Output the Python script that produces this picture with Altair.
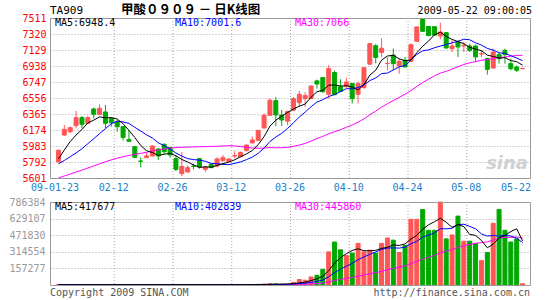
import altair as alt
import pandas as pd

# ---------------- data ----------------
opens = [5795, 6114, 6154, 6226, 6321, 6254, 6425, 6361, 6389, 6313,
         6270, 6214, 6059, 5975, 5804, 5844, 5864, 5947, 6003, 5963,
         5832, 5653, 5673, 5744, 5832, 5704, 5764, 5744, 5808, 5796,
         5864, 5856, 5931, 6019, 6051, 6198, 6349, 6524, 6353, 6280,
         6410, 6500, 6548, 6550, 6760, 6800, 6600, 6860, 6690, 6690,
         6730, 6600, 6680, 6960, 7180, 7100, 6966, 7068, 6938, 7006,
         6994, 7233, 7500, 7410, 7408, 7296, 7336, 7145, 7225, 7177,
         7177, 7177, 7081, 7026, 6914, 7074, 7125, 6966, 6926, 6906]
highs = [5940, 6234, 6214, 6401, 6341, 6345, 6441, 6480, 6472, 6325,
         6293, 6220, 6174, 5980, 5848, 5903, 5991, 5955, 6015, 5975,
         5872, 5911, 5752, 5772, 5840, 5744, 5772, 5848, 5876, 5836,
         5927, 5915, 5995, 6094, 6174, 6373, 6552, 6568, 6413, 6405,
         6568, 6640, 6625, 6707, 6775, 6807, 6948, 6880, 6780, 6800,
         6731, 6750, 6926, 7208, 7200, 7270, 7040, 7147, 7026, 7046,
         7205, 7404, 7511, 7412, 7410, 7456, 7344, 7245, 7245, 7225,
         7205, 7193, 7125, 7034, 7145, 7105, 7145, 7026, 6946, 6912]
lows = [5785, 6102, 6134, 6194, 6194, 6242, 6313, 6349, 6194, 6214,
        6154, 6047, 6035, 5840, 5728, 5840, 5856, 5816, 5887, 5844,
        5681, 5625, 5665, 5704, 5712, 5673, 5720, 5728, 5796, 5792,
        5836, 5848, 5915, 6015, 6047, 6194, 6345, 6222, 6222, 6230,
        6401, 6449, 6449, 6540, 6668, 6620, 6548, 6588, 6636, 6680,
        6490, 6490, 6668, 6950, 6970, 7046, 6888, 6888, 6847, 6926,
        6986, 7225, 7352, 7300, 7306, 7257, 7145, 7105, 7046, 7105,
        7105, 6994, 7046, 6835, 6906, 6966, 6966, 6887, 6867, 6900]
closes = [5932, 6182, 6202, 6321, 6242, 6321, 6361, 6433, 6254, 6262,
          6214, 6086, 6039, 5848, 5800, 5864, 5983, 5864, 5915, 5876,
          5704, 5740, 5724, 5740, 5732, 5732, 5724, 5828, 5844, 5828,
          5868, 5907, 5995, 6055, 6170, 6349, 6530, 6353, 6293, 6395,
          6548, 6600, 6585, 6699, 6723, 6630, 6906, 6596, 6636, 6747,
          6548, 6727, 6918, 7205, 7040, 7150, 6970, 6966, 6994, 6926,
          7193, 7404, 7352, 7300, 7306, 7344, 7153, 7177, 7165, 7185,
          7125, 7046, 7085, 6898, 7105, 7026, 7074, 6906, 6887, 6910]
volumes = [3200, 2500, 2100, 2800, 3000, 2400, 2600, 3100, 2900, 2200,
           2500, 3300, 2800, 3600, 3900, 2700, 3000, 2600, 2400, 2300,
           3500, 3800, 2900, 2600, 2800, 2500, 2400, 3100, 2900, 2700,
           3300, 3600, 4200, 4800, 6200, 8500, 11000, 9500, 6000, 9000,
           26000, 52000, 45000, 76000, 92000, 148000, 314000, 407000, 333000, 280000,
           302000, 394000, 314000, 330000, 302000, 394000, 445000, 425000, 308000, 375000,
           622000, 622000, 715000, 518000, 518000, 786384, 437000, 474000, 653000, 415000,
           415000, 394000, 231000, 308000, 585000, 715000, 518000, 407000, 437000, 12000]
ma5 = [5828, 5935, 6035, 6114, 6180, 6258, 6292, 6330, 6320, 6322,
       6305, 6250, 6170, 6085, 5990, 5927, 5905, 5870, 5885, 5895,
       5866, 5822, 5792, 5757, 5728, 5734, 5730, 5751, 5772, 5791,
       5818, 5855, 5888, 5930, 5999, 6095, 6220, 6291, 6339, 6384,
       6424, 6458, 6484, 6565, 6631, 6647, 6709, 6711, 6698, 6703,
       6687, 6651, 6715, 6829, 6888, 7008, 7057, 7066, 7024, 7001,
       7010, 7097, 7174, 7236, 7311, 7342, 7291, 7256, 7229, 7205,
       7161, 7140, 7121, 7068, 7052, 7032, 7038, 7002, 6990, 6948]
ma10 = [5770, 5810, 5855, 5900, 5950, 6010, 6070, 6130, 6190, 6251,
        6279, 6270, 6253, 6206, 6162, 6116, 6078, 6021, 5988, 5949,
        5898, 5863, 5832, 5821, 5814, 5801, 5775, 5772, 5764, 5760,
        5776, 5793, 5820, 5851, 5895, 5957, 6037, 6090, 6135, 6192,
        6260, 6329, 6388, 6452, 6508, 6536, 6573, 6598, 6632, 6667,
        6667, 6680, 6713, 6764, 6795, 6847, 6854, 6891, 6927, 6944,
        7009, 7077, 7120, 7130, 7156, 7176, 7194, 7215, 7232, 7258,
        7251, 7215, 7188, 7148, 7128, 7096, 7088, 7061, 7033, 7002]
ma30 = [5601, 5625, 5648, 5672, 5695, 5720, 5745, 5770, 5795, 5818,
        5838, 5855, 5870, 5883, 5895, 5908, 5922, 5936, 5948, 5958,
        5964, 5968, 5970, 5972, 5974, 5976, 5978, 5980, 5983, 5987,
        5984, 5975, 5968, 5959, 5957, 5958, 5964, 5961, 5962, 5967,
        5978, 5995, 6013, 6042, 6072, 6098, 6129, 6153, 6177, 6206,
        6234, 6267, 6307, 6356, 6399, 6447, 6488, 6526, 6564, 6601,
        6645, 6695, 6740, 6782, 6820, 6853, 6874, 6901, 6930, 6956,
        6976, 6990, 7007, 7014, 7026, 7040, 7045, 7056, 7064, 7066]
vma5 = [2900, 2800, 2700, 2650, 2720, 2560, 2580, 2780, 2800, 2640,
        2660, 2800, 2740, 2880, 3220, 3260, 3200, 3140, 2940, 2600,
        2760, 2920, 2980, 3020, 3100, 2920, 2640, 2680, 2740, 2720,
        2880, 3120, 3340, 3720, 4420, 5460, 6940, 8000, 8240, 8800,
        12300, 20500, 27600, 41600, 58200, 82600, 135000, 207400, 258800, 296400,
        327200, 343200, 324600, 324000, 328400, 346800, 357000, 379200, 374800, 389400,
        435000, 470400, 528400, 570400, 599000, 631900, 594900, 546700, 573700, 553100,
        478800, 470200, 421600, 352600, 386600, 446600, 471400, 506600, 532400, 417677]
vma10 = [2850, 2800, 2750, 2700, 2720, 2700, 2680, 2700, 2740, 2700,
         2660, 2700, 2770, 2840, 2930, 2960, 2940, 2890, 2840, 2850,
         2950, 3000, 3010, 2910, 2800, 2780, 2720, 2770, 2820, 2860,
         2840, 2820, 2950, 3170, 3510, 4170, 5030, 5670, 5980, 6610,
         8880, 13720, 17800, 24920, 33500, 47450, 77750, 117500, 150200, 177300,
         204900, 239100, 266000, 291400, 312400, 337000, 350100, 351900, 349400, 358900,
         390900, 413700, 453800, 472600, 494200, 533400, 532600, 537500, 572000, 576000,
         555300, 532500, 484100, 463100, 469800, 462700, 470800, 464100, 442500, 402839]
vma30 = [2800, 2800, 2790, 2790, 2800, 2800, 2810, 2810, 2810, 2820,
         2820, 2820, 2830, 2830, 2830, 2830, 2840, 2840, 2840, 2840,
         2840, 2840, 2840, 2840, 2840, 2840, 2840, 2840, 2840, 2837,
         2840, 2877, 2947, 3013, 3120, 3323, 3603, 3817, 3920, 4147,
         4930, 6553, 7960, 10373, 13310, 18153, 28520, 42000, 53020, 62277,
         72227, 85233, 95603, 106517, 116490, 129540, 144293, 158357, 168527, 180937,
         201560, 222173, 245867, 262973, 280033, 305963, 320163, 335646, 357213, 370746,
         383713, 395113, 401313, 409046, 425479, 444379, 451179, 451179, 454646, 445860]

price_ticks = [5601, 5792, 5983, 6174, 6365, 6556, 6747, 6938, 7129, 7320, 7511]
vol_ticks = [157277, 314554, 471830, 629107, 786384]
date_pos = [0, 10, 20, 30, 40, 50, 60, 70, 80]
date_labels = ["09-01-23", "02-12", "02-26", "03-12", "03-26",
               "04-10", "04-24", "05-08", "05-22"]

# ---------------- tables ----------------
df = pd.DataFrame({
    "i": list(range(len(closes))), "open": opens, "high": highs, "low": lows,
    "close": closes, "vol": volumes, "ma5": ma5, "ma10": ma10, "ma30": ma30,
    "vma5": vma5, "vma10": vma10, "vma30": vma30,
})
ticks_df = pd.DataFrame({"pos": date_pos, "label": date_labels})
dummy = pd.DataFrame({"k": [0]})

# ---------------- styling ----------------
W, H = 480, 267
P_TOP, P_BOT = 0, 160
V_TOP, V_BOT = 184, 267
RED, GREEN = "#FF5555", "#00A800"
MONO = "DejaVu Sans Mono"
GRID = "#A8A8A8"

base = alt.Chart(df).transform_calculate(
    xc="datum.i + 0.5",
    dir="datum.close >= datum.open ? 'up' : 'down'",
)
xs = alt.Scale(domain=[0, 80], nice=False, zero=False)
X = alt.X("xc:Q", scale=xs, axis=None)
dir_scale = alt.Scale(domain=["up", "down"], range=[RED, GREEN])
col = alt.Color("dir:N", scale=dir_scale, legend=None)
stk = alt.Stroke("dir:N", scale=dir_scale, legend=None)

pscale = alt.Scale(domain=[5601, 7511], range=[P_BOT, P_TOP], nice=False, zero=False)
paxis = alt.Axis(values=price_ticks, format="d", title=None, ticks=False, domain=False,
                 grid=True, gridDash=[1, 2], gridColor=GRID, labelColor="#FF0000",
                 labelFont=MONO, labelFontSize=10, labelPadding=4, labelOverlap=False,
                 orient="left")
vscale = alt.Scale(domain=[0, 786384], range=[V_BOT, V_TOP], nice=False, zero=False)
vaxis = alt.Axis(values=vol_ticks, format="d", title=None, ticks=False, domain=False,
                 grid=True, gridDash=[1, 2], gridColor=GRID, labelColor="#999999",
                 labelFont=MONO, labelFontSize=10, labelPadding=5, labelOverlap=False,
                 orient="left")

# ---------------- price panel ----------------
wick = base.mark_rule(strokeWidth=1, xOffset=0.5).encode(
    X, y=alt.Y("low:Q", scale=pscale, axis=paxis), y2="high:Q", color=col)
body = base.mark_bar(size=4, strokeWidth=1, xOffset=0.5).encode(
    X, y=alt.Y("open:Q", scale=pscale, axis=paxis), y2="close:Q", color=col, stroke=stk)


def pline(field, c):
    return base.mark_line(color=c, strokeWidth=1, xOffset=0.5).encode(
        X, y=alt.Y(f"{field}:Q", scale=pscale, axis=paxis))


price_group = alt.layer(wick, body, pline("ma30", "#FF00FF"),
                        pline("ma10", "#0000FF"), pline("ma5", "#000000"))

# ---------------- volume panel ----------------
vbars = base.mark_bar(size=4, strokeWidth=1, xOffset=0.5).encode(
    X, y=alt.Y("vol:Q", scale=vscale, axis=vaxis), color=col, stroke=stk)


def vline(field, c):
    return base.mark_line(color=c, strokeWidth=1, xOffset=0.5).encode(
        X, y=alt.Y(f"{field}:Q", scale=vscale, axis=vaxis))


vol_group = alt.layer(vbars, vline("vma30", "#FF00FF"),
                      vline("vma10", "#0000FF"), vline("vma5", "#000000"))

# ---------------- x grid and labels ----------------
tk = alt.Chart(ticks_df)
xgrid_p = tk.transform_filter("datum.pos > 0 && datum.pos < 80").mark_rule(
    strokeDash=[1, 2], color=GRID, xOffset=0.5).encode(
    x=alt.X("pos:Q", scale=xs, axis=None), y=alt.value(P_TOP), y2=alt.value(P_BOT))
xgrid_v = tk.transform_filter("datum.pos > 0 && datum.pos < 80").mark_rule(
    strokeDash=[1, 2], color=GRID, xOffset=0.5).encode(
    x=alt.X("pos:Q", scale=xs, axis=None), y=alt.value(V_TOP), y2=alt.value(V_BOT))
xlab = tk.transform_filter("datum.pos < 80").mark_text(
    font=MONO, fontSize=10, color="#1A7FC9", baseline="middle", align="center").encode(
    x=alt.X("pos:Q", scale=xs, axis=None), y=alt.value(170), text="label:N")
xlab_last = tk.transform_filter("datum.pos >= 80").mark_text(
    font=MONO, fontSize=10, color="#1A7FC9", baseline="middle", align="right", dx=6).encode(
    x=alt.X("pos:Q", scale=xs, axis=None), y=alt.value(170), text="label:N")

# ---------------- frames ----------------
frame_p = alt.Chart(dummy).mark_rect(filled=False, color="#999999", strokeWidth=1).encode(
    x=alt.value(0.5), x2=alt.value(W + 0.5), y=alt.value(P_TOP + 0.5), y2=alt.value(P_BOT + 0.5))
frame_v = alt.Chart(dummy).mark_rect(filled=False, color="#999999", strokeWidth=1).encode(
    x=alt.value(0.5), x2=alt.value(W + 0.5), y=alt.value(V_TOP + 0.5), y2=alt.value(V_BOT + 0.5))


def txt(s, x, y, color="#000000", align="left", size=10, font=MONO, weight="normal", **kw):
    return alt.Chart(dummy).mark_text(
        text=s, align=align, baseline="middle", font=font, fontSize=size,
        fontWeight=weight, color=color, **kw).encode(x=alt.value(x), y=alt.value(y))


texts = [
    txt("TA909", 0, -7, size=11),
    txt("甲酸０９０９ － 日K线图", 71, -8, size=12.5, weight="bold", font="Noto Sans CJK SC"),
    txt("2009-05-22 09:00:05", 482, -7, align="right"),
    txt("MA5:6948.4", 5, 5),
    txt("MA10:7001.6", 125, 5, color="#0000FF"),
    txt("MA30:7066", 245, 5, color="#FF00FF"),
    txt("MA5:417677", 5, 189),
    txt("MA10:402839", 125, 189, color="#0000FF"),
    txt("MA30:445860", 245, 189, color="#FF00FF"),
    txt("Copyright 2009 SINA.COM", 0, 275, color="#555555"),
    txt("http://finance.sina.com.cn", 480, 275, color="#555555", align="right"),
    txt("sina", 478, 146, color="#D0D0D0", align="right", size=18, font="DejaVu Sans",
        weight="bold", fontStyle="italic"),
]

chart = alt.layer(
    xgrid_p, xgrid_v, price_group, vol_group, frame_p, frame_v, xlab, xlab_last, *texts
).resolve_scale(y="independent").properties(
    width=W, height=H,
    autosize=alt.AutoSizeParams(type="none"),
    padding={"left": 50, "top": 18, "right": 15, "bottom": 15},
).configure_view(strokeWidth=0)

chart.save("out.html", embed_options={"renderer": "svg", "actions": False})
